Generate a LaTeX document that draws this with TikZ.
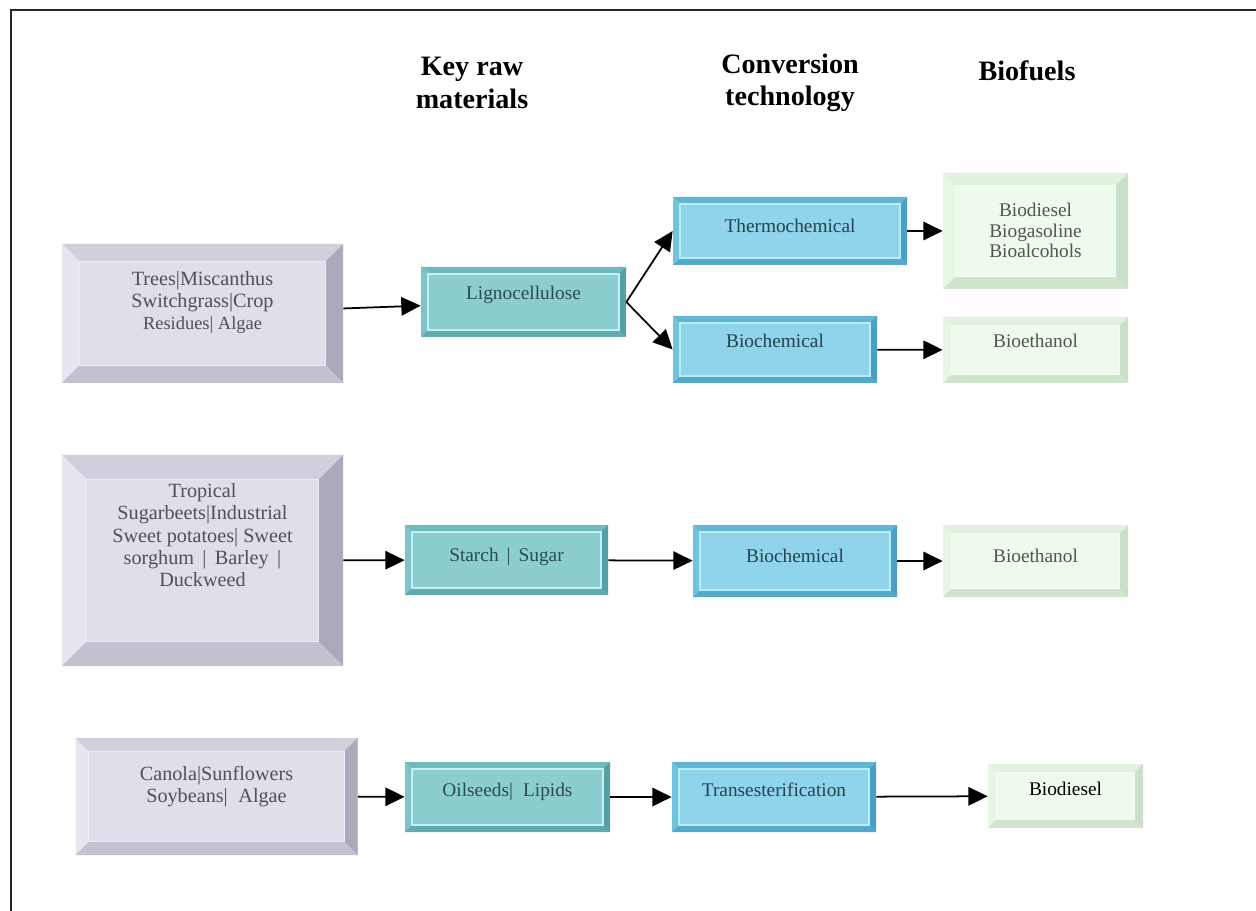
\documentclass[tikz,border=0pt]{standalone}
\usepackage{fontspec}
\setmainfont{Liberation Serif}
\usetikzlibrary{arrows.meta, positioning, calc}
% bevel colours: face, top, left, right, bottom, inner line
\definecolor{greyface}{RGB}{223,223,233}
\definecolor{greytop}{RGB}{208,208,220}
\definecolor{greyleft}{RGB}{230,230,239}
\definecolor{greyright}{RGB}{170,170,186}
\definecolor{greybottom}{RGB}{194,194,208}
\definecolor{greyline}{RGB}{236,236,244}
\definecolor{greytext}{RGB}{80,80,88}
\definecolor{tealface}{RGB}{140,206,208}
\definecolor{tealtop}{RGB}{112,186,190}
\definecolor{tealleft}{RGB}{124,196,200}
\definecolor{tealright}{RGB}{84,160,166}
\definecolor{tealbottom}{RGB}{96,170,176}
\definecolor{tealline}{RGB}{196,242,242}
\definecolor{tealtext}{RGB}{40,76,82}
\definecolor{blueface}{RGB}{143,212,234}
\definecolor{bluetop}{RGB}{98,182,212}
\definecolor{blueleft}{RGB}{112,196,222}
\definecolor{blueright}{RGB}{72,160,196}
\definecolor{bluebottom}{RGB}{82,170,202}
\definecolor{blueline}{RGB}{184,236,248}
\definecolor{bluetext}{RGB}{38,66,82}
\definecolor{greenface}{RGB}{238,250,236}
\definecolor{greentop}{RGB}{226,241,224}
\definecolor{greenleft}{RGB}{232,246,230}
\definecolor{greenright}{RGB}{202,224,202}
\definecolor{greenbottom}{RGB}{208,228,206}
\definecolor{greenline}{RGB}{246,253,245}
\definecolor{greentext}{RGB}{78,88,78}
% text set a little above the middle of its box
\newcommand{\uptext}[2]{\raisebox{#1}[0pt][0pt]{\begin{tabular}{@{}c@{}}#2\end{tabular}}}

\begin{document}
\begin{tikzpicture}[
  x=0.02cm, y=-0.02cm,
  bevel/.style 2 args={
    fill=#1face, draw=none,
    path picture={
      \fill[#1top] (path picture bounding box.north west)
        -- (path picture bounding box.north east)
        -- ([xshift=-#2,yshift=-#2]path picture bounding box.north east)
        -- ([xshift=#2,yshift=-#2]path picture bounding box.north west) -- cycle;
      \fill[#1left] (path picture bounding box.north west)
        -- (path picture bounding box.south west)
        -- ([xshift=#2,yshift=#2]path picture bounding box.south west)
        -- ([xshift=#2,yshift=-#2]path picture bounding box.north west) -- cycle;
      \fill[#1right] (path picture bounding box.north east)
        -- (path picture bounding box.south east)
        -- ([xshift=-#2,yshift=#2]path picture bounding box.south east)
        -- ([xshift=-#2,yshift=-#2]path picture bounding box.north east) -- cycle;
      \fill[#1bottom] (path picture bounding box.south west)
        -- (path picture bounding box.south east)
        -- ([xshift=-#2,yshift=#2]path picture bounding box.south east)
        -- ([xshift=#2,yshift=#2]path picture bounding box.south west) -- cycle;
      \draw[#1line, line width=0.7pt]
        ([xshift=#2,yshift=#2]path picture bounding box.south west)
        rectangle ([xshift=-#2,yshift=-#2]path picture bounding box.north east);
    }},
  boxsize/.style 2 args={minimum width=#1*0.02cm, minimum height=#2*0.02cm},
  rawbox/.style={bevel={grey}{#1}, text=greytext, inner sep=0pt,
                 font=\fontsize{11.5}{12.6}\selectfont},
  feedbox/.style={bevel={teal}{4pt}, text=tealtext, inner sep=0pt,
                  font=\fontsize{11}{13}\selectfont},
  techbox/.style={bevel={blue}{4pt}, text=bluetext, inner sep=0pt,
                  font=\fontsize{11}{13}\selectfont},
  fuelbox/.style={bevel={green}{#1}, text=greentext, inner sep=0pt,
                  font=\fontsize{11}{11.6}\selectfont},
  head/.style={align=center, font=\fontsize{16}{18.5}\selectfont\bfseries},
  arr/.style={-{Triangle[length=11pt,width=10.5pt]}, line width=1pt, black}
]
\useasboundingbox (0,0) rectangle (1256,911);
% frame
\draw[line width=1.2pt, black!85] (11,911) -- (11,10) -- (1256,10);

% column heads
\node[head] (hraw) at (472,83) {Key raw\\materials};
\node[head] (htech) at (790,83) {Conversion\\technology};
\node[head, anchor=north] (hfuel) at (1027,55) {Biofuels};

% lignocellulose row
\node[rawbox=10pt, boxsize={281}{139}] (trees) at (202.5,313.5)
  {\uptext{3pt}{Trees|Miscanthus\\Switchgrass|Crop\\{\fontsize{10.5}{12.6}\selectfont Residues| Algae}}};
\node[feedbox, boxsize={205}{70}] (ligno) at (523.5,302) {\uptext{1pt}{Lignocellulose}};
\node[techbox, boxsize={234}{68}] (thermo) at (790,231) {\uptext{-1pt}{Thermochemical}};
\node[techbox, boxsize={204}{67}] (bioA) at (775,349.5) {\uptext{1pt}{Biochemical}};
\node[fuelbox=7pt, boxsize={185}{116}] (fuelsA) at (1035.5,231)
  {\uptext{-4pt}{Biodiesel\\Biogasoline\\Bioalcohols}};
\node[fuelbox=5pt, boxsize={185}{66}] (ethA) at (1035.5,350) {\uptext{1pt}{Bioethanol}};

% starch row
\node[rawbox=14pt, boxsize={281}{211}] (tropical) at (202.5,560.5)
  {\uptext{10pt}{Tropical\\Sugarbeets|Industrial\\Sweet potatoes| Sweet\\sorghum \,|\, Barley \,|\\Duckweed}};
\node[feedbox, boxsize={203}{70}] (starch) at (506.5,560) {\uptext{-1pt}{Starch \,|\, Sugar}};
\node[techbox, boxsize={204}{72}] (bioB) at (795,561) {\uptext{-1pt}{Biochemical}};
\node[fuelbox=5pt, boxsize={185}{72}] (ethB) at (1035.5,561) {\uptext{-1pt}{Bioethanol}};

% oilseed row
\node[rawbox=7.5pt, boxsize={282}{117}] (canola) at (216.5,796.5)
  {\uptext{2.5pt}{Canola|Sunflowers\\Soybeans| \;Algae}};
\node[feedbox, boxsize={205}{70}] (oil) at (507.5,797) {\uptext{0pt}{Oilseeds| \;Lipids}};
\node[techbox, boxsize={204}{70}] (trans) at (774,797) {\uptext{0pt}{Transesterification}};
\node[fuelbox=5pt, boxsize={155}{64}, text=black] (diesel) at (1065.5,796) {\uptext{0pt}{Biodiesel}};

% connectors
\draw[arr] (trees) -- (ligno);
\draw[arr] (ligno.east) -- (thermo.west);
\draw[arr] (ligno.east) -- (bioA.west);
\foreach \a/\b in {thermo/fuelsA,bioA/ethA,tropical/starch,starch/bioB,
                   bioB/ethB,canola/oil,oil/trans,trans/diesel}
  \draw[arr] (\a) -- (\b);
\end{tikzpicture}
\end{document}
